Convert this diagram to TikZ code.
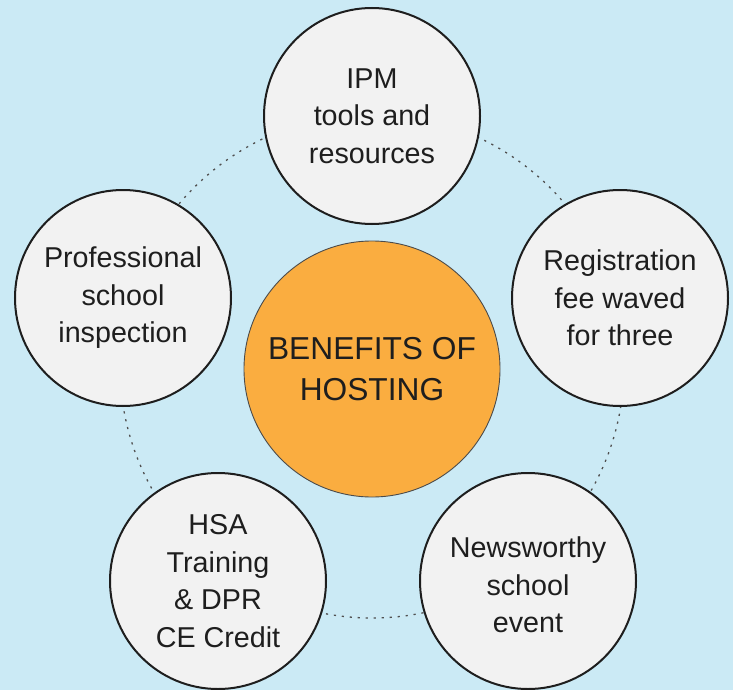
\documentclass[tikz,border=0pt]{standalone}
\usepackage{fontspec}
\setmainfont{Liberation Sans}
\definecolor{bgblue}{RGB}{203,234,245}
\definecolor{petal}{RGB}{242,242,242}
\definecolor{hub}{RGB}{250,173,64}
\definecolor{ink}{RGB}{30,30,30}
\definecolor{ringc}{RGB}{80,80,80}
\tikzset{
  petalnode/.style={circle, draw=ink, line width=2pt, fill=petal, minimum size=216pt, inner sep=0pt, align=center, text=ink, font=\fontsize{28.7}{37.5}\selectfont},
  hubnode/.style={circle, draw=ink!80, line width=0.9pt, fill=hub, minimum size=256pt, inner sep=0pt, align=center, text=ink, font=\fontsize{31.7}{40.5}\selectfont},
  ringline/.style={draw=ringc, line width=1.3pt, dash pattern=on 2.2pt off 5.8pt}
}
\begin{document}
\begin{tikzpicture}[x=1pt,y=-1pt]
\fill[bgblue] (0,0) rectangle (733,690);
\useasboundingbox (0,0) rectangle (733,690);
\coordinate (ringc) at (372,366);
\draw[ringline] (ringc) circle[radius=252];
\node[hubnode] (hub) at (372,369) {BENEFITS OF\\HOSTING};
\node[petalnode] (ipm) at (372,116) {IPM\\tools and\\resources};
\node[petalnode] (reg) at (620,298) {Registration\\fee waved\\for three};
\node[petalnode] (prof) at (123,298) {Professional\\school\\inspection};
\node[petalnode] (hsa) at (218,581) {HSA\\Training\\\& DPR\\CE Credit};
\node[petalnode] (news) at (528,581) {};
\node[align=center, text=ink, font=\fontsize{28.7}{37.5}\selectfont, inner sep=0pt] (newstext) at (528,585) {Newsworthy\\school\\event};
\end{tikzpicture}
\end{document}
